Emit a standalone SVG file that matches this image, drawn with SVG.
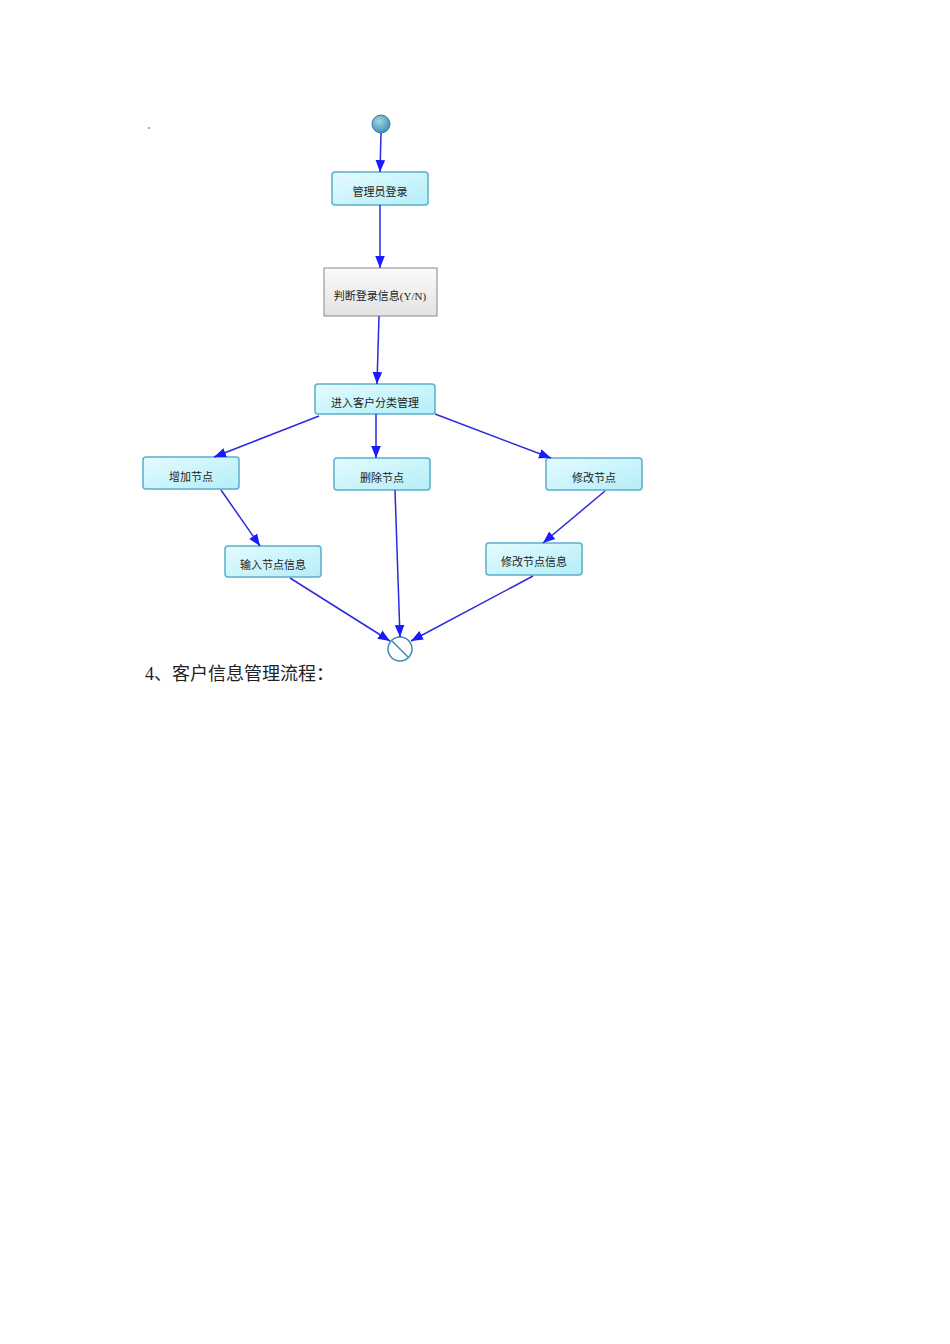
<svg xmlns="http://www.w3.org/2000/svg" width="950" height="1344" viewBox="0 0 950 1344">
<defs>
<linearGradient id="g" x1="0" y1="0" x2="1" y2="1"><stop offset="0" stop-color="#e4fbff"/><stop offset="1" stop-color="#b4eef8"/></linearGradient>
<linearGradient id="gg" x1="0" y1="0" x2="0" y2="1"><stop offset="0" stop-color="#fbfbfb"/><stop offset="1" stop-color="#e2e2e2"/></linearGradient>
<radialGradient id="sg" cx="0.4" cy="0.35" r="0.7"><stop offset="0" stop-color="#a8d4e4"/><stop offset="1" stop-color="#3a8cb0"/></radialGradient>
<marker id="a" viewBox="0 0 10 10" refX="10" refY="5" markerWidth="12" markerHeight="12" markerUnits="userSpaceOnUse" orient="auto"><path d="M0,1 L10,5 L0,9 z" fill="#1a1aff"/></marker>
<style>
.n{fill:url(#g);stroke:#5aaecc;stroke-width:1.5}
.t{font-family:"Liberation Serif","Noto Sans CJK SC",serif;font-size:11px;fill:#222;text-anchor:middle}
.c{stroke:#2a2ae0;stroke-width:1.5;fill:none;marker-end:url(#a)}
</style>
</defs>
<rect width="950" height="1344" fill="#fff"/>
<circle cx="149" cy="128" r="0.9" fill="#6a8aa8"/>
<g id="start"><circle cx="381" cy="124" r="9" fill="url(#sg)" stroke="#2d7fa3" stroke-width="1"/></g>
<g id="n1"><rect class="n" x="332" y="172" width="96" height="33" rx="3"/><text class="t" x="380" y="196">管理员登录</text></g>
<g id="n2"><rect x="324" y="268" width="113" height="48" fill="url(#gg)" stroke="#888" stroke-width="1"/><text class="t" x="380" y="300">判断登录信息(Y/N)</text></g>
<g id="n3"><rect class="n" x="315" y="384" width="120" height="30" rx="3"/><text class="t" x="375" y="407">进入客户分类管理</text></g>
<g id="n4"><rect class="n" x="143" y="457" width="96" height="32" rx="3"/><text class="t" x="191" y="481">增加节点</text></g>
<g id="n5"><rect class="n" x="334" y="458" width="96" height="32" rx="3"/><text class="t" x="382" y="482">删除节点</text></g>
<g id="n6"><rect class="n" x="546" y="458" width="96" height="32" rx="3"/><text class="t" x="594" y="482">修改节点</text></g>
<g id="n7"><rect class="n" x="225" y="546" width="96" height="31" rx="3"/><text class="t" x="273" y="569">输入节点信息</text></g>
<g id="n8"><rect class="n" x="486" y="543" width="96" height="32" rx="3"/><text class="t" x="534" y="566">修改节点信息</text></g>
<g id="end"><circle cx="400" cy="649" r="12" fill="#fff" stroke="#3a8cb0" stroke-width="1.5"/><line x1="392" y1="641" x2="408" y2="657" stroke="#3a8cb0" stroke-width="1.5"/></g>
<g id="connectors">
<line class="c" x1="381" y1="133" x2="380" y2="172"/>
<line class="c" x1="380" y1="205" x2="380" y2="268"/>
<line class="c" x1="379" y1="316" x2="377" y2="384"/>
<line class="c" x1="319" y1="416" x2="214" y2="457"/>
<line class="c" x1="376" y1="414" x2="376" y2="458"/>
<line class="c" x1="435" y1="414" x2="551" y2="458"/>
<line class="c" x1="221" y1="490" x2="260" y2="546"/>
<line class="c" x1="605" y1="491" x2="543" y2="543"/>
<line class="c" x1="395" y1="490" x2="400" y2="637"/>
<line class="c" x1="290" y1="578" x2="390" y2="641"/>
<line class="c" x1="533" y1="576" x2="411" y2="641"/>
</g>
<text x="145" y="680" font-family="'Liberation Serif','Noto Sans CJK SC',serif" font-size="18" fill="#222">4、客户信息管理流程：</text>
</svg>
